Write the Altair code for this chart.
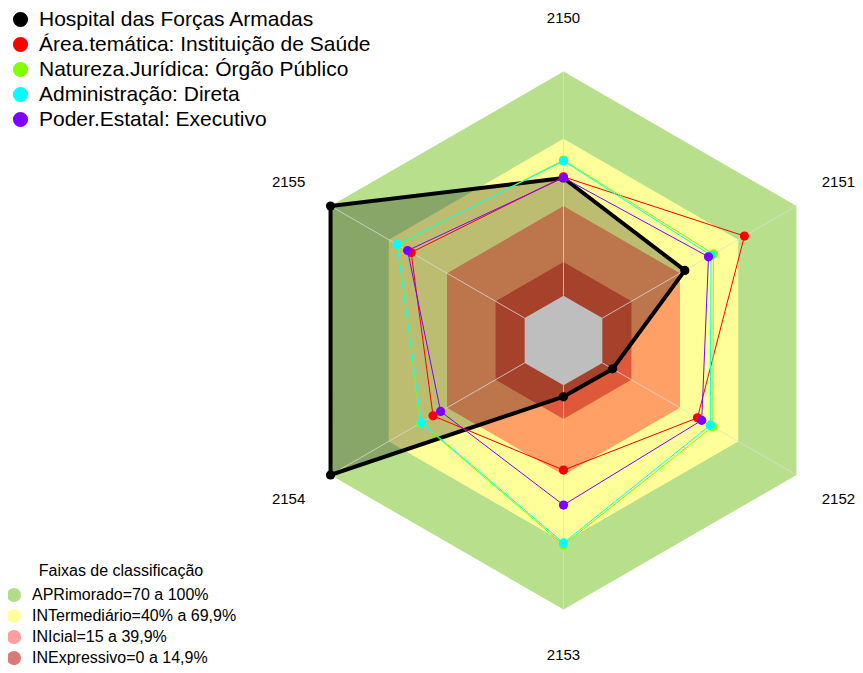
import altair as alt
import pandas as pd

# ---------------- data ----------------
axis_labels = ["2150", "2151", "2152", "2153", "2154", "2155"]
series_names = [
    "Hospital das Forças Armadas",
    "Área.temática: Instituição de Saúde",
    "Natureza.Jurídica: Órgão Público",
    "Administração: Direta",
    "Poder.Estatal: Executivo",
]
hospital = [52.5, 42.5, 5.3, 5.1, 100.0, 100.0]
area_tematica = [53.0, 73.2, 49.0, 37.8, 47.2, 58.5]
natureza_juridica = [60.5, 57.2, 56.9, 71.2, 53.5, 65.5]
administracao = [60.1, 56.0, 55.6, 70.3, 53.2, 65.7]
poder_estatal = [52.6, 54.7, 51.2, 53.4, 43.3, 60.3]
band_levels = [100, 70, 40, 15, 0]
band_names = [
    "APRimorado=70 a 100%",
    "INTermediário=40% a 69,9%",
    "INIcial=15 a 39,9%",
    "INExpressivo=0 a 14,9%",
]
scale_min, scale_max = -20, 100
legend_title = "Faixas de classificação"

# ---------------- styles ----------------
series_colors = ["#000000", "#FF0000", "#80FF00", "#00FFFF", "#8000FF"]
series_widths = [4, 1, 1, 1, 1]
band_colors = ["#b8e08c", "#ffff99", "#ffa066", "#e0583a", "#bebebe"]
band_legend_colors = ["#b3dc8a", "#ffff9e", "#ff9e9e", "#d97a7a"]
FONT = "Liberation Sans"

W, H = 847, 657
CX, CY, RPX = 555.5, 332.5, 269.0
xdom = [-CX / RPX, (W - CX) / RPX]
ydom = [-(H - CY) / RPX, CY / RPX]
# label distance (in outer radii): top label a bit further, bottom one kept inside the page
LABEL_R_EXPR = "datum.k == 0 ? 1.2 : (datum.k == 3 ? 1.168 : 1.18)"

series_values = [hospital, area_tematica, natureza_juridica, administracao, poder_estatal]
rows = []
for name, vals in zip(series_names, series_values):
    for k in range(7):
        rows.append({"series": name, "k": k, "v": vals[k % 6]})
series_df = pd.DataFrame(rows)

band_df = pd.DataFrame([{"level": lv, "k": k} for lv in band_levels for k in range(7)])
spoke_df = pd.DataFrame({"k": list(range(6))})
label_df = pd.DataFrame({"k": list(range(6)), "label": axis_labels})
legend_df = pd.DataFrame({"band": band_names})

span = scale_max - scale_min
XS = alt.Scale(domain=xdom, nice=False, zero=False)
YS = alt.Scale(domain=ydom, nice=False, zero=False)


def polar(ch, rexpr, prefix="p"):
    return ch.transform_calculate(**{
        prefix + "x": f"({rexpr}) * sin(datum.k * PI / 3)",
        prefix + "y": f"({rexpr}) * cos(datum.k * PI / 3)",
    })


def xy(prefix="p"):
    return dict(
        x=alt.X(prefix + "x:Q", scale=XS, axis=None),
        y=alt.Y(prefix + "y:Q", scale=YS, axis=None),
    )


rv = f"(datum.v - ({scale_min})) / {span}"
rl = f"(datum.level - ({scale_min})) / {span}"

layers = []
# bands (outer to inner, except the grey centre which goes after the fill)
for lv, col in zip(band_levels[:-1], band_colors[:-1]):
    ch = polar(alt.Chart(band_df).transform_filter(alt.datum.level == lv), rl)
    layers.append(ch.mark_line(fill=col, stroke=col, strokeWidth=0).encode(
        order=alt.Order("k:Q"), **xy()))

# translucent fill of the hospital polygon
ch = polar(alt.Chart(series_df).transform_filter(alt.datum.series == series_names[0]), rv)
layers.append(ch.mark_line(fill="black", fillOpacity=0.26, stroke="black", strokeWidth=0).encode(
    order=alt.Order("k:Q"), **xy()))

# grey centre
ch = polar(alt.Chart(band_df).transform_filter(alt.datum.level == band_levels[-1]), rl)
layers.append(ch.mark_line(fill=band_colors[-1], stroke=band_colors[-1], strokeWidth=0).encode(
    order=alt.Order("k:Q"), **xy()))

# spokes
r0 = f"(0 - ({scale_min})) / {span}"
ch = polar(polar(alt.Chart(spoke_df), r0, "a"), "1", "b")
layers.append(ch.mark_rule(color="#dcdcdc", opacity=0.75, strokeWidth=1).encode(
    x=alt.X("ax:Q", scale=XS, axis=None), y=alt.Y("ay:Q", scale=YS, axis=None),
    x2="bx:Q", y2="by:Q"))

# series lines
for name, col, w in zip(series_names, series_colors, series_widths):
    ch = polar(alt.Chart(series_df).transform_filter(alt.datum.series == name), rv)
    layers.append(ch.mark_line(stroke=col, strokeWidth=w).encode(
        order=alt.Order("k:Q"), **xy()))

# series points + legend
ch = polar(alt.Chart(series_df).transform_filter(alt.datum.k < 6), rv)
layers.append(ch.mark_point(filled=True, size=85, opacity=1, shape="circle").encode(
    color=alt.Color("series:N", sort=series_names,
                    scale=alt.Scale(domain=series_names, range=series_colors),
                    legend=alt.Legend(title=None, orient="none", legendX=2, legendY=1,
                                      symbolType="circle", symbolSize=230, symbolStrokeWidth=0,
                                      labelFont=FONT, labelFontSize=21, labelColor="black",
                                      labelOffset=8, rowPadding=3, padding=0, labelLimit=0)),
    **xy()))

# axis labels
ch = polar(alt.Chart(label_df), LABEL_R_EXPR)
layers.append(ch.mark_text(font=FONT, fontSize=15, color="black", align="center",
                           baseline="middle").encode(text="label:N", **xy()))

# band legend
layers.append(alt.Chart(legend_df).transform_filter("false").mark_point(
    filled=True, opacity=1, shape="circle").encode(
    fill=alt.Fill("band:N", sort=band_names,
                  scale=alt.Scale(domain=band_names, range=band_legend_colors),
                  legend=alt.Legend(title=legend_title, orient="none", legendX=-2, legendY=555,
                                    titleFont=FONT, titleFontSize=16, titleFontWeight="normal",
                                    titleColor="black", titleAnchor="middle", titlePadding=8,
                                    symbolType="circle", symbolSize=200, symbolStrokeWidth=0,
                                    labelFont=FONT, labelFontSize=16, labelColor="black",
                                    labelOffset=10, rowPadding=5, padding=0, labelLimit=0))))

chart = alt.layer(*layers).properties(
    width=W, height=H, padding=0,
    autosize=alt.AutoSizeParams(type="none"),
).configure_view(stroke=None)

chart.save("out.html", embed_options={"renderer": "svg", "actions": False})
